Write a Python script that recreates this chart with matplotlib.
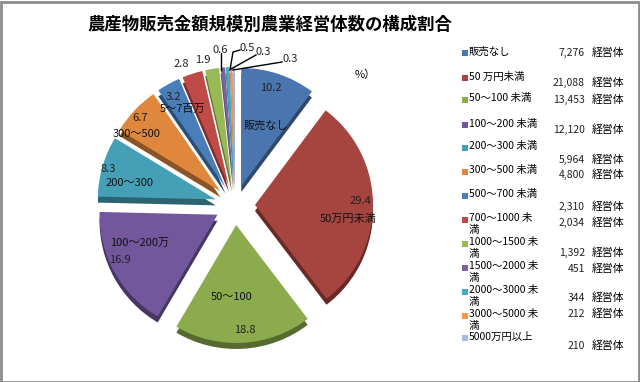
import numpy as np
import matplotlib
matplotlib.use('Agg')
import matplotlib.pyplot as plt
from matplotlib.patches import Rectangle
from matplotlib.colors import to_rgb

plt.rcParams['font.family'] = ['Noto Sans CJK JP', 'DejaVu Sans']

W, H = 640, 382

# data
categories = ['販売なし', '50 万円未満', '50～100 未満', '100～200 未満', '200～300 未満',
              '300～500 未満', '500～700 未満', '700～1000 未\n満', '1000～1500 未\n満',
              '1500～2000 未\n満', '2000～3000 未\n満', '3000～5000 未\n満', '5000万円以上']
shares = [10.2, 29.4, 18.8, 16.9, 8.3, 6.7, 3.2, 2.8, 1.9, 0.6, 0.5, 0.3, 0.3]
counts = [7276, 21088, 13453, 12120, 5964, 4800, 2310, 2034, 1392, 451, 344, 212, 210]
inner_names = ['販売なし', '50万円未満', '50～100', '100～200万', '200～300', '300～500', '5～7百万']

colors = ['#4A75AE', '#A6443F', '#8CAB4D', '#73579D', '#45A0B7', '#DF873C', '#4A7EBB',
          '#BE4B48', '#98B954', '#7D60A0', '#46AAC5', '#F79646', '#A7B9E0']
dark = [tuple(c * 0.62 for c in to_rgb(col)) for col in colors]

fig = plt.figure(figsize=(W / 100, H / 100), dpi=100)
ax = fig.add_axes([0, 0, 1, 1])

cx, cy, R = 235, H - 205, 118
explode = [20] * len(shares)   # pie offsets are in data units (px here)

# side of the 3D pie, then top face
ax.pie(shares, colors=dark, explode=explode, startangle=90, counterclock=False,
       radius=R, center=(cx, cy - 6), wedgeprops=dict(linewidth=0))
ax.pie(shares, colors=colors, explode=explode, startangle=90, counterclock=False,
       radius=R, center=(cx, cy), wedgeprops=dict(linewidth=0))
ax.set_aspect('auto')
ax.set_xlim(0, W)
ax.set_ylim(0, H)
ax.axis('off')


def T(x, y, s, **kw):
    kw.setdefault('fontsize', 8)
    kw.setdefault('ha', 'center')
    kw.setdefault('va', 'center')
    ax.text(x, H - y, s, **kw)


# title
T(270, 25, '農産物販売金額規模別農業経営体数の構成割合', fontsize=12.5, fontweight='bold')
T(365, 75, '%）', fontsize=8)

# labels on the pie
value_pos = [(271, 88), (360, 201), (245, 330), (120, 260), (108, 169), (140, 118), (173, 97),
             (181, 64), (203, 60), (220, 50), (247, 48), (263, 52), (290, 59)]
name_pos = [(266, 126), (348, 219), (232, 297), (140, 243), (130, 183), (137, 134), (183, 109)]
for (x, y), v in zip(value_pos, shares):
    T(x, y, f'{v}', color='#222222')
for (x, y), n in zip(name_pos, inner_names):
    T(x, y, n, color='#111111')

# leader lines for the thin slices
leaders = [[(221, 53), (221, 70)], [(240, 50), (233, 52), (230, 70)],
           [(256, 55), (231, 69)], [(282, 62), (233, 70)]]
for pts in leaders:
    xs = [p[0] for p in pts]
    ys = [H - p[1] for p in pts]
    ax.plot(xs, ys, color='black', linewidth=1)

# legend
leg_y = [53, 78, 100, 125, 148, 172, 196, 220, 244, 268, 292, 316, 338]
for y, lab, col in zip(leg_y, categories, colors):
    ax.add_patch(Rectangle((462, H - y - 3), 6, 6, color=col, linewidth=0))
    ax.text(469, H - y + 6.5, lab, fontsize=7.5, ha='left', va='top', linespacing=1.15)

# counts
cnt_y = [53, 83, 100, 130, 160, 175, 207, 223, 253, 269, 298, 314, 346]
for y, c in zip(cnt_y, counts):
    T(585, y, f'{c:,}', ha='right', fontsize=7.5, color='#222222')
    T(592, y, '経営体', ha='left', fontsize=7.8)

fig.patches.append(Rectangle((0.5 / W, 0.5 / H), 1 - 2 / W, 1 - 2 / H,
                             transform=fig.transFigure, fill=False,
                             edgecolor='#8C8C8C', linewidth=2))

fig.savefig('out.png', dpi=100)
